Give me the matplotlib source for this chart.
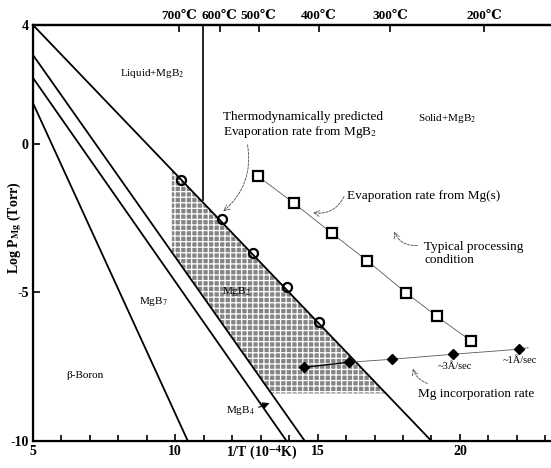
import matplotlib
matplotlib.use('Agg')
import matplotlib.pyplot as plt
from matplotlib.ticker import MultipleLocator

plt.rcParams['font.family'] = ['Liberation Serif', 'DejaVu Serif', 'DejaVu Sans']
plt.rcParams['mathtext.fontset'] = 'stix'
plt.rcParams['hatch.color'] = 'white'
plt.rcParams['hatch.linewidth'] = 0.9

# phase boundaries (start / end points in 1/T, log P)
line_a_x = [5, 19.0]
line_a_y = [4, -10]
line_b_x = [5, 14.55]
line_b_y = [2.99, -10]
line_c_x = [5, 13.91]
line_c_y = [2.22, -10]
line_d_x = [5, 10.44]
line_d_y = [1.37, -10]

# Mg melting line
melt_x = [10.96, 10.96]
melt_y = [4, -1.9]

# shaded MgB2 processing window
shade_x = [9.88, 9.88, 13.37, 17.4]
shade_y = [-0.88, -3.65, -8.4, -8.4]

# thermodynamically predicted evaporation from MgB2
circ_x = [10.19, 11.63, 12.72, 13.91, 15.04]
circ_y = [-1.22, -2.53, -3.68, -4.82, -6.0]

# evaporation rate from Mg(s)
sq_x = [12.89, 14.16, 15.49, 16.75, 18.12, 19.18, 20.40]
sq_y = [-1.08, -1.99, -3.00, -3.94, -5.02, -5.80, -6.64]

# Mg incorporation rate
inc_x = [14.51, 16.12, 17.60, 19.77, 22.09]
inc_y = [-7.52, -7.35, -7.25, -7.08, -6.91]
inc_tail_x = [22.09, 22.4]
inc_tail_y = [-6.91, -6.86]

# top axis temperatures
temp_labels = ['700℃', '600℃', '500℃', '400℃', '300℃', '200℃']
temp_pos = [10.12, 11.56, 12.93, 15.04, 17.56, 20.86]

fig = plt.figure(figsize=(5.51, 4.68), dpi=100)
ax = fig.add_axes([33/551, 27/468, 518/551, 416/468])

ax.fill(shade_x, shade_y, facecolor='#858585', edgecolor='white', hatch='+++', lw=0, zorder=1)

for xs, ys in [(line_a_x, line_a_y), (line_b_x, line_b_y), (line_c_x, line_c_y), (line_d_x, line_d_y)]:
    ax.plot(xs, ys, color='black', lw=1.3, zorder=2)
ax.plot(melt_x, melt_y, color='black', lw=1.2, zorder=2)

ax.plot(circ_x, circ_y, 'o', ms=6.5, mfc='none', mec='black', mew=1.6, zorder=4)
ax.plot(sq_x, sq_y, color='0.35', lw=0.6, zorder=3)
ax.plot(sq_x, sq_y, 's', ms=7, mfc='white', mec='black', mew=1.6, zorder=4)
ax.plot(inc_x[:2], inc_y[:2], color='black', lw=1.0, zorder=3)
ax.plot(inc_x[1:], inc_y[1:], color='0.35', lw=0.6, zorder=3)
ax.plot(inc_tail_x, inc_tail_y, color='0.35', lw=0.6, zorder=3)
ax.plot(inc_x, inc_y, 'D', ms=5, color='black', zorder=4)

# region labels
ax.text(9.18, 2.38, 'Liquid+MgB$_2$', fontsize=8, ha='center', va='center')
ax.text(19.55, 0.87, 'Solid+MgB$_2$', fontsize=8, ha='center', va='center')
ax.text(9.22, -5.29, 'MgB$_7$', fontsize=8, ha='center', va='center')
ax.text(12.14, -4.96, 'MgB$_2$', fontsize=8, ha='center', va='center')
ax.text(6.83, -7.78, 'β-Boron', fontsize=8, ha='center', va='center')
ax.text(12.28, -8.96, 'MgB$_4$', fontsize=8, ha='center', va='center')
ax.text(19.83, -7.48, '~3Å/sec', fontsize=7.5, ha='center', va='center')
ax.text(22.12, -7.28, '~1Å/sec', fontsize=7.5, ha='center', va='center')

ax.text(11.68, 0.63, 'Thermodynamically predicted\nEvaporation rate from MgB$_2$',
        fontsize=9.5, ha='left', va='center', linespacing=1.1)
ax.text(16.04, -1.76, 'Evaporation rate from Mg(s)', fontsize=9.5, ha='left', va='center')
ax.text(18.74, -3.68, 'Typical processing\ncondition', fontsize=9.5, ha='left', va='center',
        linespacing=1.1)
ax.text(18.53, -8.42, 'Mg incorporation rate', fontsize=9.5, ha='left', va='center')

# curved pointer arrows
arr = dict(arrowstyle='->', color='0.3', lw=0.6, linestyle=(0, (3, 1.5)))
ax.annotate('', xy=(11.61, -2.33), xytext=(12.52, 0.06),
            arrowprops=dict(connectionstyle='arc3,rad=-0.3', **arr))
ax.annotate('', xy=(14.74, -2.30), xytext=(15.97, -1.69),
            arrowprops=dict(connectionstyle='arc3,rad=-0.4', **arr))
ax.annotate('', xy=(17.65, -2.87), xytext=(18.60, -3.41),
            arrowprops=dict(connectionstyle='arc3,rad=-0.4', **arr))
ax.annotate('', xy=(18.32, -7.48), xytext=(18.95, -8.09),
            arrowprops=dict(connectionstyle='arc3,rad=-0.3', **arr))
ax.annotate('', xy=(13.40, -8.69), xytext=(12.84, -8.90),
            arrowprops=dict(arrowstyle='-|>', color='black', lw=0.8))

ax.set_xlim(5, 23.2)
ax.set_ylim(-10, 4)
ax.set_xticks([5, 10, 15, 20])
ax.xaxis.set_minor_locator(MultipleLocator(1))
ax.set_yticks([4, 0, -5, -10])
ax.set_xticklabels(['5', '10', '15', '20'], fontweight='bold', fontsize=10)
ax.set_yticklabels(['4', '0', '-5', '-10'], fontweight='bold', fontsize=10)
ax.tick_params(which='both', direction='in', top=False, right=False, width=1.2)
ax.tick_params(which='major', length=5, pad=3)
ax.tick_params(which='minor', length=4)
ax.spines['right'].set_visible(False)
for s in ['left', 'bottom', 'top']:
    ax.spines[s].set_linewidth(1.6)

ax2 = ax.twiny()
ax2.set_xlim(ax.get_xlim())
ax2.set_xticks(temp_pos)
ax2.set_xticklabels(temp_labels, fontweight='bold', fontsize=9.5)
ax2.tick_params(direction='in', length=5, width=1.2, pad=2)
ax2.spines['right'].set_visible(False)
ax2.spines['top'].set_linewidth(1.6)

ax.text(0.442, -0.028, r'1/T (10$^{\mathbf{-4}}$K)', transform=ax.transAxes,
        ha='center', va='center', fontsize=10, fontweight='bold')
ax.text(-0.035, 0.512, r'Log P$_{\mathbf{Mg}}$ (Torr)', transform=ax.transAxes,
        ha='center', va='center', rotation=90, fontsize=10, fontweight='bold')

fig.savefig('out.png', dpi=100)
